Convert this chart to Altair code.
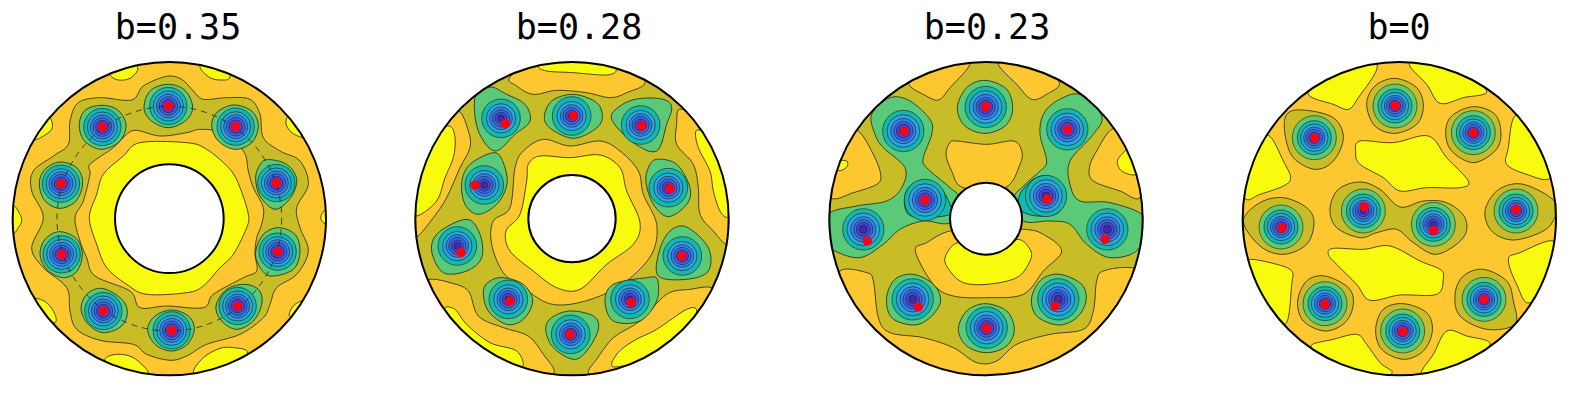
import altair as alt
import pandas as pd

YEL = "#f9fb0e"; ORA = "#fdc82f"; OLI = "#c8bd26"; GRN = "#5bca78"; TEA = "#13b9b1"
RING_COLORS = [TEA, "#2ca5e4", "#2f86ee", "#3a66ea", "#4246dc", "#3f2da5"]
WHITE = "#ffffff"; LINE = "#1c1c14"

TITLES = ["b=0.35", "b=0.28", "b=0.23", "b=0"]
TITLE_DX = [-22, -13, 3, 23]
CENTERS = [(508, 653), (516, 653), (528, 653), (538, 653)]
RIM_R = [470, 470, 470, 470]
HOLE_R = [163, 131, 108, 0]
BASE = [ORA, OLI, OLI, ORA]
X_DOMAINS = [(24, 1176), (0, 1152), (-54, 1098), (-108, 1044)]

# ---- contour regions (units: 1/3 px) ----
P1 = [
 (YEL, [(325,215),(350,236),(390,232),(413,200),(370,170),(330,190)]),
 (YEL, [(600,198),(630,230),(665,237),(690,228),(680,170),(620,170)]),
 (YEL, [(100,415),(130,405),(155,385),(155,360),(140,345),(90,370)]),
 (YEL, [(860,352),(860,375),(880,398),(915,408),(930,370),(880,335)]),
 (YEL, [(40,615),(60,640),(65,660),(55,680),(40,695),(20,655)]),
 (YEL, [(975,628),(962,650),(975,668),(995,650)]),
 (YEL, [(105,892),(140,905),(165,940),(165,965),(130,950),(90,910)]),
 (YEL, [(905,900),(880,915),(868,945),(900,950),(930,900)]),
 (YEL, [(315,1075),(350,1060),(400,1070),(445,1115),(420,1140),(340,1110)]),
 (YEL, [(580,1115),(610,1070),(660,1042),(700,1040),(742,1052),(720,1100),(620,1140)]),
 (OLI, [(500,226),(545,235),(580,270),(610,295),(680,290),(750,295),(780,340),(790,410),(840,450),(900,480),(925,550),(890,620),(900,680),(925,750),(890,820),(830,860),(810,910),(790,950),(720,1000),(620,1030),(560,1065),(510,1078),(440,1060),(400,1030),(300,1018),(230,985),(210,930),(200,860),(130,800),(95,740),(130,650),(95,570),(100,510),(160,465),(205,430),(210,360),(235,305),(300,290),(395,297),(430,255)]),
 (ORA, [(410,388),(480,405),(560,395),(600,385),(660,395),(730,450),(745,510),(760,560),(790,620),(785,670),(770,710),(765,760),(770,810),(730,830),(640,880),(610,920),(500,915),(420,920),(390,870),(285,825),(260,770),(240,720),(225,650),(250,600),(270,520),(270,490),(340,440),(380,400)]),
 (YEL, [(420,425),(560,425),(620,445),(690,505),(720,560),(745,640),(740,680),(700,760),(660,800),(610,855),(560,875),(440,880),(380,850),(320,800),(290,730),(268,650),(290,580),(310,520),(370,465)]),
 (GRN, [(505,250),(555,268),(578,318),(558,358),(505,380),(452,358),(432,318),(452,268)]),
 (GRN, [(303,313),(352,326),(378,372),(358,422),(302,445),(252,418),(238,370),(255,328)]),
 (GRN, [(700,312),(755,330),(775,375),(755,425),(705,445),(655,420),(635,375),(650,335)]),
 (GRN, [(180,483),(230,500),(248,545),(228,600),(178,622),(132,596),(118,545),(135,505)]),
 (GRN, [(800,476),(860,490),(890,535),(872,590),(825,625),(780,585),(767,535),(775,500)]),
 (GRN, [(178,692),(228,712),(247,760),(230,812),(188,830),(140,805),(120,760),(135,715)]),
 (GRN, [(835,680),(885,700),(900,750),(880,805),(810,825),(775,790),(767,750),(790,700)]),
 (GRN, [(305,862),(360,890),(382,930),(365,975),(310,995),(265,970),(243,925),(260,880)]),
 (GRN, [(735,850),(778,868),(785,910),(760,960),(710,985),(665,960),(648,915),(680,865)]),
 (GRN, [(515,927),(565,945),(583,985),(560,1032),(512,1050),(465,1030),(443,985),(465,945)]),
]
P2 = [
 (ORA, [(330,228),(350,255),(400,280),(470,268),(560,275),(630,290),(680,275),(735,240),(650,160),(420,160)]),
 (YEL, [(415,195),(440,210),(520,215),(620,222),(648,205),(600,175),(450,175)]),
 (ORA, [(175,330),(205,390),(210,440),(180,500),(140,590),(100,650),(50,708),(20,700),(10,600),(60,450),(120,370)]),
 (YEL, [(147,375),(165,410),(160,470),(135,530),(110,600),(50,645),(20,620),(40,470),(90,400)]),
 (ORA, [(838,325),(830,370),(830,430),(880,490),(895,560),(900,640),(940,690),(980,730),(1010,700),(1010,560),(950,420),(890,350)]),
 (YEL, [(888,390),(895,440),(930,510),(940,570),(960,630),(985,648),(1010,600),(970,470),(920,400)]),
 (ORA, [(90,835),(150,845),(205,870),(235,945),(310,980),(385,1005),(430,1060),(462,1115),(400,1140),(250,1070),(150,960),(80,860)]),
 (YEL, [(135,925),(165,925),(200,970),(270,1025),(350,1050),(365,1098),(280,1070),(190,1000)]),
 (ORA, [(565,1115),(590,1075),(640,1010),(720,960),(800,880),(870,865),(935,860),(950,900),(850,1040),(720,1120),(600,1140)]),
 (YEL, [(645,1098),(650,1060),(700,1020),(770,985),(860,925),(890,930),(860,990),(780,1060)]),
 (ORA, [(430,415),(510,435),(600,420),(660,450),(715,510),(730,580),(770,670),(755,760),(680,840),(600,885),(510,910),(440,905),(370,860),(310,815),(275,730),(280,660),(330,620),(345,500),(370,450)]),
 (YEL, [(420,465),(510,470),(600,462),(660,500),(680,570),(720,665),(700,730),(620,790),(540,865),(470,860),(400,810),(330,750),(318,690),(360,640),(380,540),(385,490)]),
 (GRN, [(225,290),(270,258),(320,280),(375,310),(390,360),(345,400),(285,450),(235,390)]),
 (GRN, [(285,455),(315,500),(320,555),(290,610),(235,640),(195,610),(185,545),(210,490)]),
 (GRN, [(200,655),(240,700),(245,770),(200,810),(130,815),(95,750),(115,695)]),
 (GRN, [(310,830),(370,850),(398,900),(370,955),(320,970),(265,930),(250,870),(270,840)]),
 (GRN, [(520,280),(590,305),(607,350),(585,385),(520,412),(455,385),(433,350),(455,300)]),
 (GRN, [(715,293),(790,295),(815,320),(800,370),(770,450),(700,425),(635,355),(660,315)]),
 (GRN, [(770,475),(830,490),(870,560),(860,610),(805,647),(760,610),(738,545),(745,500)]),
 (GRN, [(860,678),(925,740),(925,810),(860,835),(775,825),(778,750),(810,690)]),
 (GRN, [(740,830),(772,835),(770,900),(720,960),(640,960),(615,900),(640,850)]),
 (GRN, [(510,930),(580,945),(595,985),(560,1050),(520,1075),(460,1040),(437,985),(455,950)]),
]
P3 = [
 (ORA, [(297,250),(340,280),(385,297),(420,260),(480,185),(400,170),(320,210)]),
 (ORA, [(565,190),(620,250),(665,295),(710,280),(748,245),(680,190),(600,170)]),
 (ORA, [(145,390),(190,460),(212,520),(200,550),(130,575),(62,590),(40,500),(100,400)]),
 (YEL, [(88,478),(110,480),(112,495),(95,508),(75,505),(70,480)]),
 (ORA, [(905,385),(860,450),(838,500),(850,540),(930,570),(990,590),(1010,490),(950,400)]),
 (YEL, [(945,450),(922,480),(935,510),(975,522),(990,500),(960,445)]),
 (ORA, [(440,420),(530,430),(610,420),(635,450),(630,490),(585,560),(460,560),(425,510),(408,460),(420,425)]),
 (ORA, [(90,810),(170,815),(190,840),(205,950),(240,995),(340,1010),(430,1040),(500,1085),(560,1080),(620,1030),(720,1000),(820,985),(850,930),(860,840),(880,810),(960,800),(1010,830),(860,1020),(528,1150),(200,1050),(70,900)]),
 (ORA, [(316,750),(350,725),(420,690),(520,690),(640,685),(700,700),(755,750),(700,810),(640,880),(530,890),(430,885),(370,850)]),
 (YEL, [(445,725),(530,750),(620,715),(660,745),(660,780),(620,830),(530,850),(460,845),(420,810),(405,770)]),
 (GRN, [(185,340),(240,290),(300,300),(360,355),(365,400),(340,470),(350,500),(420,560),(445,590),(420,665),(340,660),(270,685),(220,730),(150,770),(75,750),(50,720),(55,640),(140,615),(230,600),(275,560),(285,500),(220,440),(195,400)]),
 (GRN, [(875,345),(810,280),(740,300),(700,340),(690,400),(710,480),(690,510),(640,555),(610,595),(640,660),(720,660),(780,670),(830,730),(900,770),(985,745),(1005,650),(900,605),(810,600),(780,550),(780,480),(850,400)]),
 (TEA, [(340,540),(390,560),(420,610),(420,640),(345,650),(295,640),(283,595),(300,555)]),
 (TEA, [(715,525),(750,550),(765,590),(745,635),(680,645),(630,625),(630,580),(670,535)]),
 (GRN, [(525,238),(590,265),(608,325),(585,375),(525,397),(465,375),(442,320),(470,260)]),
 (GRN, [(310,820),(370,850),(392,900),(360,950),(310,972),(245,950),(230,890),(255,835)]),
 (GRN, [(750,820),(815,850),(828,900),(800,950),(745,972),(680,945),(665,890),(695,835)]),
 (GRN, [(525,908),(590,930),(613,985),(590,1035),(530,1055),(470,1035),(445,985),(470,930)]),
]
P4 = [
 (YEL, [(265,280),(340,310),(385,325),(415,290),(472,195),(400,170),(300,220)]),
 (YEL, [(568,190),(620,250),(660,307),(730,290),(800,270),(700,200),(620,170)]),
 (YEL, [(148,405),(190,480),(212,530),(190,555),(120,580),(75,592),(50,500),(100,420)]),
 (YEL, [(88,775),(170,790),(215,810),(215,850),(195,970),(120,900),(70,800)]),
 (YEL, [(885,345),(865,440),(860,490),(920,520),(990,532),(1020,450),(950,370)]),
 (YEL, [(1000,720),(900,755),(865,775),(890,850),(930,905),(1010,800)]),
 (YEL, [(275,1032),(340,1015),(410,1000),(440,1030),(480,1085),(515,1118),(420,1140),(300,1060)]),
 (YEL, [(603,1115),(640,1060),(680,990),(740,1005),(810,1030),(720,1100),(620,1140)]),
 (YEL, [(420,420),(520,425),(625,405),(680,470),(745,540),(720,560),(620,560),(540,570),(490,530),(420,490),(407,455)]),
 (YEL, [(340,742),(430,745),(510,735),(600,780),(660,805),(670,830),(650,880),(540,882),(450,898),(410,850),(350,790),(325,760)]),
 (OLI, [(525,232),(590,260),(610,315),(590,370),(525,397),(465,375),(440,310),(465,255)]),
 (OLI, [(250,327),(340,350),(370,410),(340,480),(285,505),(220,470),(195,400),(200,340)]),
 (OLI, [(760,317),(825,340),(843,400),(825,450),(760,485),(695,450),(677,395),(695,345)]),
 (OLI, [(70,660),(120,605),(190,590),(260,620),(282,665),(260,730),(190,760),(120,735)]),
 (OLI, [(330,625),(355,565),(420,543),(480,565),(540,618),(610,600),(680,605),(735,650),(730,710),(650,760),(580,725),(530,685),(470,695),(420,710),(350,680)]),
 (OLI, [(795,630),(830,570),(890,548),(950,565),(1005,603),(1005,648),(970,690),(880,717),(815,690)]),
 (OLI, [(315,825),(385,860),(400,910),(375,965),(315,990),(250,960),(233,900),(260,840)]),
 (OLI, [(790,805),(860,840),(880,900),(885,970),(800,985),(720,945),(705,880),(730,825)]),
 (OLI, [(550,908),(620,935),(637,990),(610,1050),(550,1075),(485,1045),(467,985),(490,925)]),
]
REGIONS = [P1, P2, P3, P4]

# vortex ring centres, ring radii, red dots
V1 = [(505,315),(307,378),(707,377),(183,548),(829,546),(185,760),(833,752),(310,930),(713,915),(515,988)]
V2 = [(303,352),(253,552),(172,735),(325,895),(515,345),(722,372),(805,560),(847,765),(690,895),(512,1000)]
V3 = [(527,318),(280,390),(772,385),(345,597),(708,585),(160,685),(892,685),(308,895),(745,895),(530,980)]
V4 = [(525,315),(283,410),(760,395),(183,678),(430,630),(640,670),(888,630),(315,908),(792,895),(548,990)]
VORTICES = [V1, V2, V3, V4]
R1 = [56, 45, 36, 28, 20, 12]
R2 = [58, 44, 34, 26, 18, 10]
R3 = [62, 49, 38, 29, 21, 12]
R4 = [51, 41, 32, 25, 17, 9]
RADII = [R1, R2, R3, R4]
GREEN_R4 = 66
RED1 = V1
RED2 = [(316,368),(225,552),(183,755),(330,900),(520,345),(725,375),(810,563),(845,765),(693,905),(510,1000)]
RED3 = [(527,316),(282,390),(772,385),(345,597),(712,595),(172,720),(885,715),(325,918),(735,915),(530,982)]
RED4 = [(526,314),(283,411),(760,396),(186,681),(432,617),(641,689),(888,625),(315,910),(792,895),(548,992)]
REDS = [RED1, RED2, RED3, RED4]
DASH_R = [337, 0, 0, 0]

W, H, S = 384, 356, 8
Y_DOM = [1200, 132]
MASK = 22


def px2(u):
    return (2 * u / 3) ** 2


def panel(i):
    xs = alt.X("x:Q", axis=None, scale=alt.Scale(domain=list(X_DOMAINS[i]), nice=False, zero=False))
    ys = alt.Y("y:Q", axis=None, scale=alt.Scale(domain=Y_DOM, nice=False, zero=False))
    size = alt.Size("s:Q", scale=None, legend=None)
    fill = alt.Fill("c:N", scale=None, legend=None)
    cx, cy = CENTERS[i]
    R = RIM_R[i]

    def pts(rows):
        return alt.Data(values=rows)

    base = alt.Chart(pts([{"x": cx, "y": cy, "s": px2(R), "c": BASE[i]}])).mark_point(
        filled=True, opacity=1, shape="circle", strokeWidth=0
    ).encode(x=xs, y=ys, size=size, fill=fill)

    rows = []
    for k, (col, poly) in enumerate(REGIONS[i]):
        for j, (x, y) in enumerate(poly):
            rows.append({"x": x, "y": y, "c": col, "k": f"r{k:03d}", "j": j})
    regions = alt.Chart(pd.DataFrame(rows)).mark_line(
        interpolate="cardinal-closed", stroke=LINE, strokeWidth=0.9, strokeOpacity=0.85, clip=True
    ).encode(x=xs, y=ys, fill=fill, detail="k:N", order="j:Q")

    mask_u = R + 3 + MASK * 3 / 2
    mask = alt.Chart(pts([{"x": cx, "y": cy, "s": px2(mask_u)}])).mark_point(
        filled=False, opacity=1, shape="circle", stroke=WHITE, strokeWidth=MASK, clip=True
    ).encode(x=xs, y=ys, size=size)

    rows = []
    for vx, vy in VORTICES[i]:
        radii = RADII[i]
        cols = RING_COLORS
        if i == 3:
            radii = [GREEN_R4] + radii
            cols = [GRN] + cols
        for r, col in zip(radii, cols):
            rows.append({"x": vx, "y": vy, "s": px2(r), "c": col})
    rings = alt.Chart(pd.DataFrame(rows)).mark_point(
        filled=True, opacity=1, shape="circle", stroke=LINE, strokeWidth=0.7, strokeOpacity=0.85
    ).encode(x=xs, y=ys, size=size, fill=fill)

    layers = [base, regions, mask, rings]
    if DASH_R[i]:
        layers.append(alt.Chart(pts([{"x": cx, "y": cy, "s": px2(DASH_R[i])}])).mark_point(
            filled=False, opacity=1, shape="circle", stroke="#222222", strokeWidth=0.8, strokeDash=[6, 5]
        ).encode(x=xs, y=ys, size=size))
    if HOLE_R[i]:
        layers.append(alt.Chart(pts([{"x": cx, "y": cy, "s": px2(HOLE_R[i]), "c": WHITE}])).mark_point(
            filled=True, opacity=1, shape="circle", stroke="black", strokeWidth=2
        ).encode(x=xs, y=ys, size=size, fill=fill))
    layers.append(alt.Chart(pts([{"x": cx, "y": cy, "s": px2(R)}])).mark_point(
        filled=False, opacity=1, shape="circle", stroke="black", strokeWidth=2
    ).encode(x=xs, y=ys, size=size))
    red = [{"x": x, "y": y, "s": 90, "c": "#ff0014"} for x, y in REDS[i]]
    layers.append(alt.Chart(pts(red)).mark_point(
        filled=True, opacity=1, shape="circle", strokeWidth=0
    ).encode(x=xs, y=ys, size=size, fill=fill))

    return alt.layer(*layers).properties(
        width=W, height=H,
        title=alt.TitleParams(
            TITLES[i], font="DejaVu Sans Mono", fontSize=35, fontWeight="normal",
            color="black", anchor="middle", dx=TITLE_DX[i], offset=-1,
        ),
    )


chart = alt.hconcat(*[panel(i) for i in range(4)], spacing=S).properties(
    padding={"left": 0, "right": 0, "top": 3, "bottom": 0}, background="white"
).configure_view(stroke=None).resolve_scale(x="independent", y="independent", fill="independent", size="independent")

chart.save("out.html", embed_options={"renderer": "svg", "actions": False})
